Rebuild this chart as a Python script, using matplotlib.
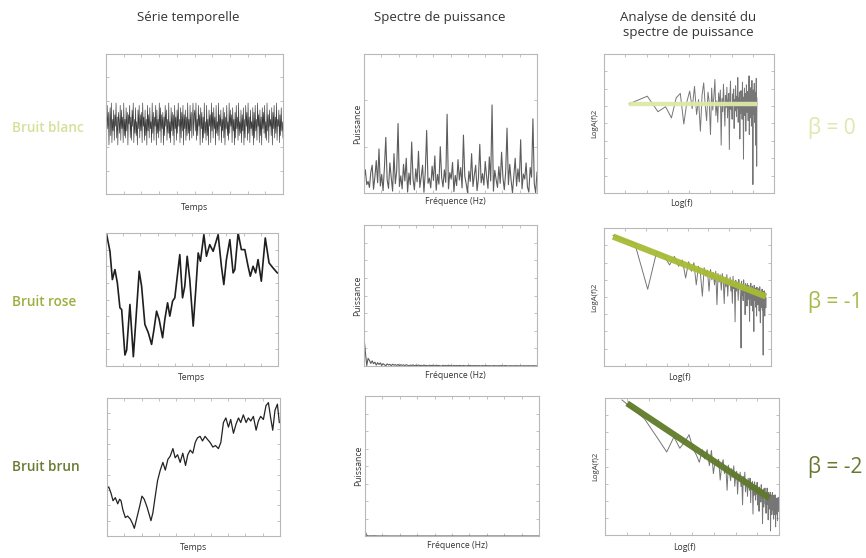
import matplotlib
matplotlib.use('Agg')
import matplotlib.pyplot as plt
from matplotlib.ticker import NullLocator, FixedLocator
import numpy as np

plt.rcParams['font.family'] = ['Open Sans', 'DejaVu Sans']

# ---------------- data ----------------
col_titles = ["Série temporelle", "Spectre de puissance", "Analyse de densité du\nspectre de puissance"]
row_labels = ["Bruit blanc", "Bruit rose", "Bruit brun"]
betas = [0, -1, -2]
beta_labels = ["β = 0", "β = -1", "β = -2"]
fit_amplitude = [0.3, 1.0, 1.0]
fit_k_start = [1, 1, 1.17]
fit_k_end = [128, 128, 97]

white_ts = [0.3,-0.6,0.8,-0.2,0.5,-0.9,0.1,0.7,-0.5,0.9,-0.8,0.2,-0.3,0.6,-0.7,0.4,-0.1,0.9,-0.6,0.3,
            -0.9,0.5,0.1,-0.4,0.8,-0.7,0.6,-0.2,0.3,-0.8,0.9,-0.5,0.2,-0.6,0.7,-0.3,0.5,-0.9,0.4,0.0,
            0.8,-0.6,0.3,-0.7,0.6,-0.1,0.9,-0.8,0.2,-0.4,0.7,-0.5,0.1,-0.9,0.6,-0.2,0.8,-0.6,0.4,-0.3,
            0.5,-0.8,0.9,-0.1,0.3,-0.7,0.6,-0.5,0.2,-0.9,0.8,-0.3,0.4,-0.6,0.7,-0.2,0.1,-0.8,0.9,-0.4,
            0.5,-0.7,0.3,-0.1,0.8,-0.9,0.6,-0.4,0.2,-0.6,0.9,-0.3,0.7,-0.8,0.4,-0.2,0.5,-0.9,0.3,-0.5,
            0.8,-0.1,0.6,-0.7,0.2,-0.4,0.9,-0.6,0.1,-0.8,0.7,-0.3,0.5,-0.5,0.4,-0.9,0.8,-0.2,0.3,-0.7,
            0.6,-0.4,0.9,-0.1,0.2,-0.8,0.7,-0.6,0.5,-0.3,0.8,-0.9,0.4,-0.2,0.6,-0.7,0.3,-0.5,0.9,-0.4,
            0.2,-0.7,0.8,-0.3,0.5,-0.6,0.1,0.9,-0.5,0.4,
            0.6,-0.3,0.9,-0.7,0.2,-0.5,0.8,-0.1,0.4,-0.9,0.7,-0.2,0.5,-0.8,0.3,-0.6,0.9,-0.4,0.1,-0.7,
            0.8,-0.5,0.2,-0.9,0.6,-0.1,0.4,-0.8,0.9,-0.3,0.5,-0.6,0.7,-0.2,0.3,-0.9,0.8,-0.4,0.1,-0.5,
            0.9,-0.7,0.4,-0.1,0.6,-0.8,0.2,-0.3,0.7,-0.6,0.5,-0.9,0.3,-0.2,0.8,-0.5,0.1,-0.7,0.9,-0.4,
            0.6,-0.1,0.4,-0.8,0.7,-0.3,0.2,-0.9,0.5,-0.6,0.8,-0.2,0.3,-0.7,0.9,-0.5,0.1,-0.4,0.6,-0.8,
            0.4,-0.3,0.7,-0.9,0.2,-0.6,0.8,-0.1,0.5,-0.7,0.9,-0.4,0.3,-0.8,0.6,-0.2,0.1,-0.5,0.7,-0.9,
            0.5,-0.6,0.8,-0.3,0.2,-0.7,0.9,-0.1,0.4,-0.8,0.6,-0.5,0.3,-0.9,0.7,-0.2,0.5,-0.4,0.8,-0.6,
            0.1,-0.7,0.9,-0.3,0.4,-0.8,0.6,-0.1,0.2,-0.5,0.7,-0.9,0.5,-0.2,0.8,-0.6,0.3,-0.4,0.9,-0.7,
            0.2,-0.1,0.6,-0.8,0.4,-0.5,0.7,-0.3,0.1,-0.6]

pink_t = [0.4,2.3,3.7,5.2,6.6,8.1,9.1,11.0,12.0,13.9,15.9,17.4,19.3,20.7,22.6,24.6,26.5,27.9,29.4,30.9,
          32.9,34.2,35.8,37.1,38.7,40.0,42.9,44.5,45.8,47.2,48.7,50.7,52.2,53.6,54.9,56.9,58.4,60.3,62.3,65.2,
          67.1,68.5,70.0,72.0,73.9,74.9,76.8,78.7,80.7,82.6,83.9,85.5,87.0,88.4,90.3,92.6,94.8,97.1,99.6]
pink_ts = [7.9,6.9,5.2,5.8,5.0,3.5,3.4,0.66,0.95,3.7,0.56,2.8,5.7,4.8,2.5,2.0,1.3,2.2,3.3,2.8,
           1.7,2.8,3.8,3.0,3.9,4.1,6.7,4.1,4.8,6.6,5.2,2.4,4.6,6.8,6.3,7.9,6.6,7.3,6.9,7.9,
           6.0,4.9,6.4,7.6,5.6,5.8,8.0,7.0,7.0,6.0,5.4,6.0,5.6,6.4,5.1,7.7,6.2,5.9,5.6]

brown_t = [0,1.0,2.3,3.5,4.8,6.2,7.3,8.1,9.2,10.6,11.9,13.5,14.8,15.8,17.3,18.8,20.2,21.5,23.1,24.4,
           25.4,26.5,27.9,29.2,30.8,32.3,33.7,35.2,36.5,38.1,39.4,40.8,42.3,43.8,45.4,46.7,48.1,49.6,51.0,52.3,
           53.8,55.2,56.7,58.1,59.6,61.2,62.7,64.4,65.8,67.3,68.7,70.2,71.5,73.1,74.6,76.0,77.3,78.8,80.4,81.7,
           83.1,84.6,86.2,87.5,88.8,90.4,91.9,93.3,94.6,95.8,97.1,98.5,99.6]
brown_ts = [3.1,3.2,2.8,2.3,2.5,2.1,2.4,2.3,1.7,1.2,1.3,1.1,0.8,0.5,1.2,1.9,2.6,2.4,1.9,1.4,
            1.0,1.5,2.6,3.6,4.3,4.8,4.3,5.0,5.2,5.7,5.1,5.3,4.8,5.4,4.6,5.3,5.6,5.4,6.1,6.4,
            6.5,6.2,6.5,6.3,6.1,5.8,5.9,5.7,6.1,7.4,7.7,7.1,7.6,6.7,7.3,7.7,7.4,7.9,7.4,7.7,
            7.5,7.8,6.9,7.5,7.8,7.6,8.5,8.7,7.7,6.9,8.2,8.6,7.4]

white_psd = [0.30,0.50,0.18,0.25,0.12,0.45,0.60,0.08,0.35,0.70,
             0.22,0.95,0.15,0.40,0.05,0.55,1.20,0.28,0.10,0.65,
             0.33,0.04,0.85,0.20,0.48,1.50,0.14,0.37,0.09,0.62,
             0.26,0.75,0.02,0.43,0.18,1.10,0.30,0.07,0.52,0.24,
             0.90,0.12,0.35,0.60,0.015,0.46,1.35,0.21,0.32,0.11,
             0.58,0.27,0.80,0.06,0.40,0.19,1.00,0.34,0.13,0.50,
             0.23,1.70,0.09,0.44,0.30,0.66,0.03,0.38,0.16,0.72,
             0.28,0.55,0.11,1.25,0.36,0.20,0.008,0.47,0.25,0.85,
             0.14,0.39,0.60,0.05,0.31,1.05,0.22,0.42,0.17,0.68,
             0.35,0.10,0.78,0.26,1.90,0.04,0.49,0.29,0.12,0.57,
             0.21,0.88,0.33,0.07,0.45,1.40,0.18,0.62,0.27,0.0015,
             0.38,0.75,0.15,0.52,0.24,1.15,0.09,0.41,0.30,0.65,
             0.13,0.02,0.55,0.34,1.60,0.20,0.005,0.45]

pink_psd = [1.1,0.55,0.014,0.30,0.22,0.10,0.20,0.09,0.15,0.035,
            0.13,0.06,0.12,0.02,0.09,0.05,0.008,0.08,0.04,0.065,
            0.012,0.07,0.03,0.055,0.02,0.06,0.004,0.05,0.025,0.045,
            0.013,0.05,0.027,0.0044,0.037,0.017,0.046,0.008,0.028,0.02,
            0.037,0.012,0.028,0.0045,0.04,0.015,0.021,0.001,0.029,0.012,
            0.025,0.017,0.0057,0.031,0.0145,0.02,0.007,0.00012,0.027,0.0083,
            0.02,0.0056,0.03,0.011,0.015,0.0018,0.022,0.0088,0.019,0.0036,
            0.0225,0.011,0.0062,0.019,0.012,0.00105,0.0156,0.007,0.0228,0.00375,
            0.0136,0.0079,0.018,0.0024,0.0153,0.0087,0.00046,0.0193,0.0056,0.0111,
            0.0154,0.0033,0.0129,0.009,0.0016,0.0167,0.0062,0.0112,0.004,0.013,
            0.0069,0.0147,0.0024,0.0096,0.0171,0.0047,0.00093,0.012,0.0083,0.0032,
            0.0108,0.0054,0.0142,0.0026,0.0087,0.0069,0.000068,0.0119,0.0038,0.0092,
            0.0045,0.0123,0.0016,0.0097,0.0056,0.0103,0.0031,0.007]

brown_psd = [1.0,0.175,0.0289,0.0078,0.032,0.0111,0.0204,0.039,0.0111,0.006,
             0.003,0.0097,0.0041,0.0097,0.0022,0.009,0.00104,0.0037,0.0022,0.004,
             0.00057,0.0023,0.0038,0.00104,0.0021,0.00022,0.0023,0.00115,0.00054,0.00167,
             0.00073,0.00215,0.00032,0.00087,0.0013,0.000154,0.00095,0.00055,0.00118,0.00031,
             0.00065,0.000057,0.00081,0.00036,0.00119,0.00019,0.00054,0.00039,0.000125,0.00068,
             0.00038,0.00022,0.00068,0.000069,0.00043,0.00024,0.00049,0.000024,0.00032,0.000139,
             0.00048,0.00023,0.000088,0.00034,0.000154,0.00046,0.000056,0.00026,0.000179,0.000031,
             0.0003,0.000135,0.000207,0.000073,0.00037,0.000104,0.00022,0.0000098,0.000152,0.00025,
             0.000046,0.000179,0.000116,0.00027,0.000062,0.000135,0.000026,0.00018,0.000088,0.00027,
             0.00006,0.00013,0.000014,0.00018,0.0001,0.000038,0.000138,0.000078,0.000184,0.000005,
             0.000118,0.000058,0.000141,0.000023,0.000091,0.000178,0.000035,0.000073,0.000109,0.000015,
             0.000138,0.000044,0.000086,0.000023,0.000144,0.000059,0.0000073,0.000101,0.000046,0.000083,
             0.000024,0.000107,0.000059,0.000013,0.000083,0.000044,0.000112,0.000031]

# ---------------- styling ----------------
W, H = 866, 558
fig = plt.figure(figsize=(W / 100, H / 100), dpi=100)
fig.patch.set_facecolor('white')

def ax_at(x0, y0, x1, y1):
    return fig.add_axes([x0 / W, 1 - y1 / H, (x1 - x0) / W, (y1 - y0) / H])

def txt(x, y, s, **kw):
    fig.text(x / W, 1 - y / H, s, **kw)

def style(ax, xlim, ylim, nx=10, ny=6):
    for sp in ax.spines.values():
        sp.set_color('#b8b8b8')
        sp.set_linewidth(0.8)
    ax.tick_params(which='both', direction='in', length=2, width=0.5, colors='#a8a8a8',
                   top=True, right=True, labelbottom=False, labelleft=False)
    if ax.get_xscale() == 'linear':
        ax.set_xticks(np.linspace(xlim[0], xlim[1], nx + 1)[1:-1])
    else:
        ax.xaxis.set_minor_locator(NullLocator())
        ax.xaxis.set_major_locator(FixedLocator(np.geomspace(xlim[0], xlim[1], nx + 1)[1:-1]))
    if ax.get_yscale() == 'linear':
        ax.set_yticks(np.linspace(ylim[0], ylim[1], ny + 1)[1:-1])
    else:
        ax.yaxis.set_minor_locator(NullLocator())
        ax.yaxis.set_major_locator(FixedLocator(np.geomspace(ylim[0], ylim[1], ny + 1)[1:-1]))

ts_boxes = [(106, 54, 283, 194), (106, 233, 278, 366), (107, 398, 280, 536)]
sp_boxes = [(364, 54, 537, 193), (364, 225, 537, 366), (365, 396, 539, 536)]
psd_boxes = [(604, 54, 774, 193), (604, 228, 771, 366), (605, 398, 779, 535)]

ts_t = [list(range(len(white_ts))), pink_t, brown_t]
ts_v = [white_ts, pink_ts, brown_ts]
ts_ylim = [(-3, 3), (0, 8), (0, 9)]
ts_lw = [0.45, 1.2, 0.9]
ts_col = ['#3a3a3a', '#1e1e1e', '#222222']
ts_ny = [6, 8, 9]

psds = [white_psd, pink_psd, brown_psd]
sp_ylim = [(0, 3), (0, 5.5), (0, 25)]
psd_xlim = [(0.387, 245), (0.75, 150), (0.59, 130)]
psd_ylim = [(8.6e-4, 8.0), (2.8e-5, 2.0), (3.4e-6, 1.2)]
fit_colors = ['#dfe8a6', '#a8bb34', '#5f7a2a']
fit_lw = [3.2, 4.5, 4.5]
label_colors = ['#d5e19a', '#9caf3e', '#687c32']
beta_colors = ['#dfe8ac', '#a7b946', '#66792f']

label_y = [128, 302, 467]
xl_y = [(208, 201, 203), (378, 376, 378), (548, 546, 548)]

for r in range(3):
    # time series
    ax = ax_at(*ts_boxes[r])
    t = ts_t[r]
    ax.plot(t, ts_v[r], color=ts_col[r], lw=ts_lw[r])
    xlim = (min(t), max(t)) if r == 0 else (0, 100)
    ax.set_xlim(*xlim)
    ax.set_ylim(*ts_ylim[r])
    style(ax, xlim, ts_ylim[r], 10, ts_ny[r])

    # linear spectrum
    ax = ax_at(*sp_boxes[r])
    k = np.arange(1, len(psds[r]) + 1)
    ax.plot(k, psds[r], color='#5c5c5c', lw=0.8)
    ax.set_xlim(1, len(psds[r]))
    ax.set_ylim(*sp_ylim[r])
    style(ax, (1, len(psds[r])), sp_ylim[r], 10, 3 if r == 0 else 8)

    # log-log power spectral density
    ax = ax_at(*psd_boxes[r])
    ax.set_xscale('log')
    ax.set_yscale('log')
    ax.plot(k, psds[r], color='#767676', lw=0.7)
    kk = np.array([fit_k_start[r], fit_k_end[r]], dtype=float)
    ax.plot(kk, fit_amplitude[r] * kk ** betas[r], color=fit_colors[r], lw=fit_lw[r],
            solid_capstyle='butt', alpha=0.95)
    ax.set_xlim(*psd_xlim[r])
    ax.set_ylim(*psd_ylim[r])
    style(ax, psd_xlim[r], psd_ylim[r], 8, 8)

    # texts
    cx = (ts_boxes[r][0] + ts_boxes[r][2]) / 2
    txt(cx, xl_y[r][0], "Temps", fontsize=6.2, color='#333333', ha='center', va='center')
    cx = (sp_boxes[r][0] + sp_boxes[r][2]) / 2
    txt(cx + 5, xl_y[r][1], "Fréquence (Hz)", fontsize=6.2, color='#333333', ha='center', va='center')
    cx = (psd_boxes[r][0] + psd_boxes[r][2]) / 2
    txt(cx - 8, xl_y[r][2], "Log(f)", fontsize=6.2, color='#333333', ha='center', va='center')
    cy = (sp_boxes[r][1] + sp_boxes[r][3]) / 2
    txt(sp_boxes[r][0] - 6, cy, "Puissance", fontsize=6.2, color='#333333', ha='center', va='center', rotation=90)
    cy = (psd_boxes[r][1] + psd_boxes[r][3]) / 2
    txt(psd_boxes[r][0] - 9, cy, "LogA(f)2", fontsize=5.6, color='#333333', ha='center', va='center', rotation=90)

    txt(12, label_y[r], row_labels[r], fontsize=9.8, fontweight='semibold', color=label_colors[r],
        ha='left', va='center')
    txt(808, label_y[r], beta_labels[r], fontsize=15, color=beta_colors[r], ha='left', va='center')

txt(188, 18, col_titles[0], fontsize=9.5, color='#333333', ha='center', va='center')
txt(440, 18, col_titles[1], fontsize=9.5, color='#333333', ha='center', va='center')
txt(688, 25, col_titles[2], fontsize=9.5, color='#333333', ha='center', va='center', linespacing=1.25)

fig.savefig('out.png', dpi=100, facecolor='white')
